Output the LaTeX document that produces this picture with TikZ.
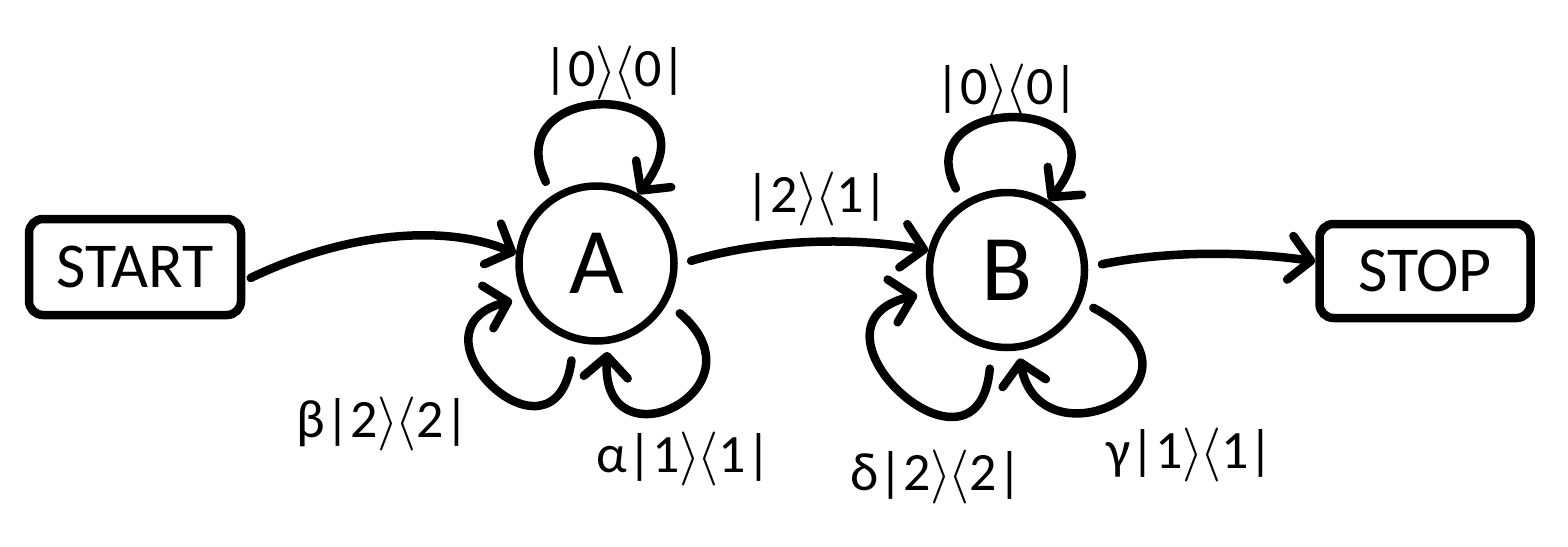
\documentclass[tikz,border=0pt]{standalone}
\usepackage{fix-cm}
\usepackage{fontspec}
\setmainfont{Carlito}
\usetikzlibrary{arrows.meta}
\newcommand\bkt[2]{|#1$\rangle\kern-3pt\langle$#2|}
\begin{document}
\begin{tikzpicture}[x=1pt,y=-1pt,line width=8.5pt,
  boxnode/.style={draw,rounded corners=14pt,minimum width=212pt,minimum height=96pt,inner sep=0pt,font=\fontsize{64}{64}\selectfont},
  statenode/.style={draw,circle,minimum size=155pt,inner sep=0pt,line width=7.5pt,font=\fontsize{94}{94}\selectfont},
  lbl/.style={font=\fontsize{54}{54}\selectfont,inner sep=0pt,anchor=base},
  edgearrow/.style={-{Straight Barb[length=21pt,width=44pt,round]},line cap=round}]
\useasboundingbox (0,0) rectangle (1568,546);
\node[boxnode] (START) at (135,267) {START};
\node[boxnode,minimum width=211pt,minimum height=94pt] (STOP) at (1425,271) {STOP};
\node[statenode] (A) at (596.5,263.5) {A};
\node[statenode] (B) at (1007,270) {B};
% labels
\node[lbl] (lA0) at (615,86) {\bkt{0}{0}};
\node[lbl] (lB0) at (1007,104) {\bkt{0}{0}};
\node[lbl] (lAB) at (817,212) {\bkt{2}{1}};
\node[lbl] (lbeta) at (383,437) {β\bkt{2}{2}};
\node[lbl] (lalpha) at (684,472) {α\bkt{1}{1}};
\node[lbl] (ldelta) at (936,490) {δ\bkt{2}{2}};
\node[lbl] (lgamma) at (1190,468) {γ\bkt{1}{1}};
% main edges
\draw[edgearrow,shorten <=6pt] (START.-7) .. controls (340,235) and (440,222) .. (A.173);
\draw[edgearrow,shorten <=14pt] (A.-1) .. controls (760,240) and (850,236) .. (B.166);
\draw[edgearrow,shorten <=14pt] (B.2) .. controls (1170,250) and (1250,252) .. (STOP.175);
% loops
\draw[edgearrow,shorten <=15pt] (A.123) .. controls (495,75) and (725,80) .. (A.59);
\draw[edgearrow,shorten <=15pt] (B.123) .. controls (905,90) and (1135,95) .. (B.59);
\draw[edgearrow,shorten <=19pt,shorten >=11pt] (A.-106) .. controls (555,480) and (400,330) .. (A.205);
\draw[edgearrow,shorten <=16pt,shorten >=8pt] (A.-29) .. controls (770,390) and (600,470) .. (A.-82);
\draw[edgearrow,shorten <=19pt,shorten >=12pt] (B.-101) .. controls (978,500) and (790,325) .. (B.196);
\draw[edgearrow,shorten <=13pt,shorten >=8pt] (B.-23) .. controls (1230,380) and (1040,470) .. (B.-82);
\end{tikzpicture}
\end{document}
